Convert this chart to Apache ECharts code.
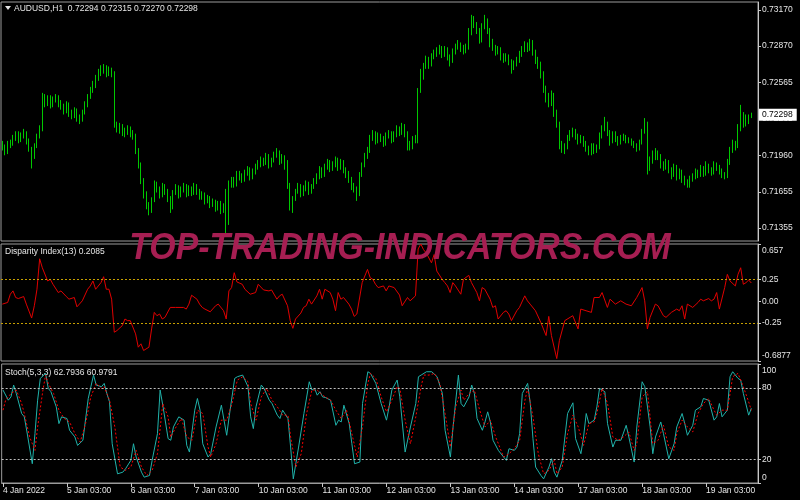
<!DOCTYPE html>
<html>
<head>
<meta charset="utf-8">
<title>AUDUSD H1</title>
<script src="https://cdn.jsdelivr.net/npm/echarts@6/dist/echarts.min.js"></script>
<style>
  html, body { margin: 0; padding: 0; background: #000; }
  #chart { width: 800px; height: 500px; }
</style>
</head>
<body>
<div id="chart"></div>
<script>
// AUDUSD,H1 bars, open of a bar = close of the bar before it
const firstOpen = 0.7205;
const closes = [
  0.7203,0.7199,0.7205,0.7206,0.7210,0.7214,0.7209,0.7212,0.7215,0.7208,
  0.7201,0.7195,0.7204,0.7212,0.7218,0.7245,0.7240,0.7244,0.7238,0.7242,
  0.7245,0.7239,0.7237,0.7233,0.7238,0.7231,0.7229,0.7233,0.7227,0.7226,
  0.7232,0.7238,0.7245,0.7250,0.7255,0.7260,0.7265,0.7267,0.7270,0.7264,
  0.7267,0.7264,0.7221,0.7218,0.7220,0.7216,0.7215,0.7218,0.7214,0.7212,
  0.7200,0.7188,0.7175,0.7163,0.7154,0.7150,0.7159,0.7172,0.7168,0.7163,
  0.7170,0.7166,0.7160,0.7153,0.7165,0.7169,0.7163,0.7167,0.7170,0.7164,
  0.7168,0.7165,0.7170,0.7166,0.7162,0.7163,0.7158,0.7160,0.7155,0.7157,
  0.7152,0.7156,0.7150,0.7153,0.7155,0.7172,0.7175,0.7172,0.7180,0.7178,
  0.7176,0.7181,0.7184,0.7178,0.7182,0.7186,0.7188,0.7192,0.7190,0.7195,
  0.7188,0.7192,0.7196,0.7198,0.7191,0.7194,0.7190,0.7171,0.7154,0.7160,
  0.7166,0.7170,0.7164,0.7168,0.7172,0.7166,0.7170,0.7174,0.7178,0.7184,
  0.7180,0.7186,0.7190,0.7185,0.7188,0.7192,0.7186,0.7190,0.7184,0.7180,
  0.7176,0.7170,0.7168,0.7164,0.7180,0.7188,0.7195,0.7200,0.7210,0.7214,
  0.7208,0.7212,0.7210,0.7206,0.7212,0.7214,0.7209,0.7213,0.7218,0.7215,
  0.7220,0.7214,0.7205,0.7203,0.7210,0.7208,0.7250,0.7262,0.7270,0.7276,
  0.7272,0.7278,0.7280,0.7282,0.7285,0.7280,0.7284,0.7278,0.7275,0.7282,
  0.7286,0.7288,0.7285,0.7283,0.7286,0.7298,0.7308,0.7305,0.7300,0.7292,
  0.7303,0.7308,0.7300,0.7290,0.7286,0.7282,0.7284,0.7278,0.7276,0.7278,
  0.7274,0.7270,0.7272,0.7275,0.7280,0.7284,0.7288,0.7285,0.7290,0.7282,
  0.7275,0.7272,0.7264,0.7252,0.7245,0.7240,0.7246,0.7232,0.7222,0.7205,
  0.7200,0.7203,0.7210,0.7214,0.7216,0.7212,0.7208,0.7210,0.7206,0.7202,
  0.7198,0.7204,0.7200,0.7203,0.7212,0.7218,0.7222,0.7215,0.7208,0.7214,
  0.7210,0.7206,0.7210,0.7212,0.7208,0.7209,0.7206,0.7204,0.7202,0.7207,
  0.7216,0.7221,0.7186,0.7192,0.7196,0.7198,0.7195,0.7188,0.7186,0.7190,
  0.7184,0.7180,0.7186,0.7178,0.7182,0.7176,0.7174,0.7170,0.7176,0.7178,
  0.7182,0.7180,0.7185,0.7181,0.7187,0.7184,0.7182,0.7188,0.7186,0.7183,
  0.7180,0.7178,0.7190,0.7200,0.7206,0.7204,0.7218,0.7230,0.7222,0.7228,
  0.72294,0.72298
];
const highs = [
  0.7208,0.7205,0.7208,0.7209,0.7213,0.7216,0.7216,0.7215,0.7218,0.7216,
  0.7210,0.7203,0.7206,0.7214,0.7221,0.7248,0.7247,0.7246,0.7246,0.7245,
  0.7247,0.7246,0.7242,0.7239,0.7241,0.7240,0.7234,0.7236,0.7235,0.7230,
  0.7234,0.7241,0.7247,0.7253,0.7258,0.7263,0.7268,0.7271,0.7272,0.7271,
  0.7270,0.7269,0.7266,0.7224,0.7223,0.7222,0.7219,0.7221,0.7220,0.7217,
  0.7214,0.7202,0.7190,0.7177,0.7166,0.7157,0.7161,0.7175,0.7174,0.7170,
  0.7173,0.7172,0.7168,0.7162,0.7167,0.7172,0.7171,0.7170,0.7173,0.7172,
  0.7171,0.7170,0.7173,0.7172,0.7168,0.7166,0.7165,0.7163,0.7162,0.7160,
  0.7159,0.7158,0.7158,0.7156,0.7168,0.7175,0.7178,0.7178,0.7183,0.7183,
  0.7181,0.7184,0.7187,0.7186,0.7185,0.7189,0.7192,0.7195,0.7194,0.7198,
  0.7197,0.7194,0.7199,0.7202,0.7200,0.7197,0.7196,0.7192,0.7173,0.7162,
  0.7168,0.7173,0.7172,0.7171,0.7175,0.7174,0.7172,0.7177,0.7181,0.7187,
  0.7186,0.7189,0.7193,0.7192,0.7191,0.7195,0.7194,0.7193,0.7192,0.7186,
  0.7183,0.7178,0.7173,0.7170,0.7182,0.7190,0.7198,0.7203,0.7213,0.7217,
  0.7216,0.7215,0.7214,0.7212,0.7215,0.7217,0.7216,0.7216,0.7221,0.7220,
  0.7223,0.7222,0.7216,0.7208,0.7212,0.7213,0.7252,0.7268,0.7273,0.7279,
  0.7278,0.7281,0.7284,0.7286,0.7288,0.7287,0.7287,0.7286,0.7280,0.7285,
  0.7289,0.7292,0.7290,0.7288,0.7289,0.7302,0.7313,0.7312,0.7307,0.7302,
  0.7306,0.7313,0.7310,0.7302,0.7293,0.7288,0.7287,0.7286,0.7281,0.7281,
  0.7280,0.7276,0.7275,0.7278,0.7283,0.7287,0.7291,0.7290,0.7293,0.7292,
  0.7284,0.7278,0.7274,0.7266,0.7254,0.7248,0.7250,0.7248,0.7234,0.7224,
  0.7208,0.7206,0.7213,0.7217,0.7219,0.7218,0.7214,0.7213,0.7212,0.7208,
  0.7204,0.7206,0.7206,0.7205,0.7215,0.7221,0.7228,0.7224,0.7217,0.7216,
  0.7216,0.7212,0.7213,0.7214,0.7213,0.7211,0.7210,0.7208,0.7206,0.7209,
  0.7218,0.7227,0.7224,0.7195,0.7200,0.7202,0.7200,0.7197,0.7191,0.7193,
  0.7192,0.7186,0.7189,0.7188,0.7185,0.7184,0.7179,0.7176,0.7179,0.7181,
  0.7185,0.7184,0.7188,0.7187,0.7191,0.7189,0.7186,0.7191,0.7190,0.7188,
  0.7185,0.7182,0.7193,0.7203,0.7209,0.7208,0.7222,0.7238,0.7232,0.7230,
  0.7230,0.72315
];
const lows = [
  0.7200,0.7196,0.7197,0.7202,0.7204,0.7208,0.7206,0.7207,0.7210,0.7205,
  0.7199,0.7185,0.7193,0.7202,0.7210,0.7216,0.7236,0.7237,0.7235,0.7236,
  0.7240,0.7236,0.7234,0.7230,0.7231,0.7228,0.7226,0.7227,0.7224,0.7222,
  0.7224,0.7230,0.7236,0.7243,0.7248,0.7252,0.7258,0.7262,0.7264,0.7261,
  0.7262,0.7261,0.7219,0.7215,0.7214,0.7212,0.7211,0.7213,0.7211,0.7209,
  0.7197,0.7185,0.7172,0.7160,0.7151,0.7146,0.7148,0.7157,0.7165,0.7160,
  0.7161,0.7163,0.7157,0.7148,0.7151,0.7163,0.7160,0.7161,0.7165,0.7161,
  0.7162,0.7162,0.7163,0.7163,0.7159,0.7159,0.7155,0.7156,0.7152,0.7153,
  0.7149,0.7150,0.7147,0.7148,0.7129,0.7138,0.7169,0.7169,0.7170,0.7175,
  0.7173,0.7174,0.7179,0.7175,0.7176,0.7180,0.7184,0.7186,0.7187,0.7188,
  0.7185,0.7186,0.7190,0.7194,0.7188,0.7189,0.7184,0.7168,0.7150,0.7148,
  0.7158,0.7164,0.7161,0.7162,0.7166,0.7163,0.7164,0.7168,0.7172,0.7176,
  0.7177,0.7178,0.7184,0.7182,0.7183,0.7186,0.7183,0.7184,0.7181,0.7177,
  0.7173,0.7167,0.7165,0.7158,0.7162,0.7178,0.7186,0.7193,0.7198,0.7208,
  0.7205,0.7206,0.7207,0.7203,0.7204,0.7210,0.7206,0.7207,0.7211,0.7212,
  0.7213,0.7211,0.7200,0.7200,0.7201,0.7206,0.7206,0.7248,0.7259,0.7268,
  0.7268,0.7270,0.7276,0.7278,0.7280,0.7277,0.7278,0.7275,0.7270,0.7273,
  0.7280,0.7284,0.7282,0.7280,0.7281,0.7284,0.7296,0.7302,0.7297,0.7289,
  0.7290,0.7301,0.7297,0.7286,0.7283,0.7279,0.7280,0.7275,0.7273,0.7274,
  0.7271,0.7264,0.7267,0.7270,0.7273,0.7278,0.7282,0.7282,0.7283,0.7279,
  0.7272,0.7268,0.7260,0.7248,0.7240,0.7236,0.7237,0.7228,0.7219,0.7201,
  0.7198,0.7197,0.7201,0.7208,0.7211,0.7209,0.7205,0.7206,0.7203,0.7199,
  0.7196,0.7196,0.7197,0.7198,0.7201,0.7210,0.7216,0.7212,0.7204,0.7206,
  0.7207,0.7204,0.7205,0.7208,0.7206,0.7206,0.7204,0.7202,0.7199,0.7200,
  0.7205,0.7214,0.7180,0.7183,0.7189,0.7192,0.7192,0.7185,0.7183,0.7184,
  0.7181,0.7176,0.7178,0.7175,0.7176,0.7173,0.7171,0.7169,0.7169,0.7174,
  0.7176,0.7177,0.7178,0.7178,0.7179,0.7181,0.7179,0.7180,0.7183,0.7180,
  0.7177,0.7176,0.7177,0.7188,0.7198,0.7200,0.7202,0.7216,0.7219,0.7220,
  0.7222,0.72270
];
const lastPrice = 0.72298;
const priceTicks = [0.73170, 0.72870, 0.72565, 0.72265, 0.71960, 0.71655, 0.71355];

// Disparity Index(13), [bar, value]
const disparity = [
  [0,-0.034],[2,-0.015],[3,0.080],[4,0.118],[5,0.042],[6,0.030],[8,0.053],[9,-0.034],[11,-0.194],[12,-0.053],
  [13,0.137],[14,0.487],[15,0.384],[17,0.232],[18,0.251],[19,0.194],[21,0.099],[22,0.118],[24,0.053],[25,0.023],
  [27,0.042],[28,-0.065],[30,0.004],[32,0.137],[33,0.175],[34,0.232],[35,0.137],[37,0.213],[38,0.281],[39,0.137],
  [40,0.137],[41,0.023],[42,-0.357],[43,-0.338],[45,-0.281],[46,-0.205],[47,-0.224],[48,-0.224],[50,-0.376],[51,-0.529],
  [52,-0.490],[53,-0.567],[55,-0.529],[56,-0.319],[57,-0.129],[58,-0.167],[59,-0.148],[60,-0.205],[61,-0.186],[63,-0.072],
  [65,-0.072],[68,-0.072],[69,-0.091],[70,-0.034],[71,0.068],[73,0.023],[74,-0.034],[75,-0.072],[76,-0.091],[78,-0.122],
  [80,-0.053],[81,-0.034],[83,-0.110],[84,-0.205],[85,0.118],[86,0.156],[87,0.327],[88,0.221],[90,0.194],[91,0.137],
  [93,0.080],[95,0.099],[96,0.194],[98,0.129],[100,0.118],[101,0.129],[103,0.023],[104,0.061],[105,0.080],[107,-0.053],
  [108,-0.224],[109,-0.312],[110,-0.205],[112,-0.137],[113,-0.072],[114,-0.053],[115,0.023],[116,-0.034],[118,0.061],[119,0.137],
  [120,0.023],[121,0.137],[123,0.099],[124,0.023],[125,-0.110],[126,0.099],[127,0.023],[128,0.042],[130,-0.034],[131,-0.091],
  [132,-0.175],[133,-0.148],[135,0.213],[136,0.289],[137,0.365],[138,0.270],[139,0.251],[140,0.194],[141,0.156],[143,0.175],
  [144,0.118],[145,0.175],[147,0.156],[149,0.070],[150,-0.053],[152,0.042],[153,0.004],[155,0.061],[156,0.600],[157,0.657],
  [158,0.593],[159,0.555],[161,0.441],[162,0.536],[163,0.346],[165,0.251],[166,0.213],[167,0.175],[168,0.099],[169,0.213],
  [170,0.175],[172,0.080],[173,0.251],[175,0.297],[176,0.213],[178,0.099],[179,0.004],[180,0.156],[181,0.137],[183,0.023],
  [184,-0.072],[185,-0.053],[186,-0.205],[188,-0.129],[189,-0.110],[190,-0.148],[191,-0.224],[193,-0.110],[194,-0.072],[196,0.061],
  [197,0.004],[198,-0.034],[200,-0.110],[202,-0.243],[204,-0.395],[205,-0.175],[206,-0.395],[208,-0.660],[209,-0.452],[211,-0.224],
  [213,-0.186],[214,-0.167],[216,-0.319],[217,-0.091],[219,-0.110],[221,-0.129],[222,0.042],[224,0.042],[225,0.099],[227,-0.072],
  [228,0.023],[230,-0.034],[231,-0.015],[232,0.004],[234,-0.034],[236,-0.053],[238,0.042],[240,0.156],[241,0.004],[242,-0.319],
  [243,-0.186],[245,-0.034],[246,-0.053],[248,-0.167],[249,-0.186],[251,-0.129],[253,-0.091],[254,-0.110],[255,-0.053],[256,-0.205],
  [257,-0.034],[259,-0.072],[261,-0.015],[262,0.023],[263,0.004],[265,0.030],[266,0.004],[267,0.023],[268,0.099],[269,-0.091],
  [271,0.156],[272,0.308],[273,0.232],[275,0.175],[276,0.308],[277,0.384],[278,0.194],[279,0.213],[280,0.243],[281,0.2085]
];
const dispTicks = [0.657, 0.25, 0, -0.25, -0.6877];
const dispTickText = ['0.657', '0.25', '0.00', '-0.25', '-0.6877'];
const dispLevels = [0.25, -0.25];

// Stoch(5,3,3) main and signal, [bar, value]
const stochMain = [
  [0,78.1],[2,69.6],[3,72.4],[4,82.3],[5,75.2],[7,58.4],[8,55.6],[9,42.9],[11,16.2],[12,41.5],
  [13,69.6],[14,87.9],[16,92.1],[17,79.5],[18,76.7],[20,64.0],[21,49.9],[22,55.6],[24,54.2],[25,44.3],
  [27,38.7],[28,31.6],[30,35.9],[32,71.0],[33,80.9],[34,90.7],[35,82.3],[37,80.9],[38,83.7],[39,75.2],
  [40,68.2],[41,33.0],[43,7.7],[45,9.1],[46,11.9],[48,19.0],[49,33.0],[50,21.8],[52,9.1],[53,4.9],
  [55,6.3],[56,19.0],[58,41.5],[59,78.1],[60,65.4],[62,37.3],[63,35.9],[64,47.1],[66,55.6],[68,52.8],
  [69,31.6],[70,26.0],[72,61.2],[73,71.0],[74,61.2],[75,33.0],[77,21.8],[78,24.6],[80,47.1],[82,65.4],
  [84,40.1],[85,57.0],[87,87.9],[88,89.3],[90,90.7],[92,80.9],[93,55.6],[94,45.7],[95,64.0],[97,82.3],
  [98,79.5],[100,69.6],[101,66.8],[103,57.0],[104,54.2],[105,61.2],[107,54.2],[108,30.2],[109,3.5],[111,30.2],
  [113,58.4],[115,85.1],[116,78.1],[117,79.5],[118,73.8],[119,76.7],[120,72.4],[121,71.9],[123,69.6],[125,48.5],
  [126,52.8],[127,51.3],[128,65.4],[130,49.9],[131,33.0],[132,16.2],[134,17.6],[135,66.8],[137,93.5],[138,92.1],
  [140,83.7],[142,66.8],[144,52.8],[145,64.0],[146,78.1],[148,86.5],[149,72.4],[151,26.0],[153,47.1],[155,66.8],
  [156,89.3],[157,90.7],[159,93.5],[161,93.5],[163,89.3],[165,75.2],[166,44.3],[168,21.8],[169,47.1],[171,90.7],
  [172,66.8],[173,64.0],[175,72.4],[176,82.3],[177,75.2],[178,54.2],[180,44.3],[181,51.3],[182,59.8],[183,51.3],
  [184,35.9],[186,27.4],[188,21.8],[189,19.0],[190,28.8],[192,27.4],[193,30.2],[194,41.5],[195,75.2],[197,83.7],
  [198,66.8],[199,37.3],[200,13.4],[202,6.3],[203,3.5],[205,13.4],[206,20.4],[207,9.1],[208,4.9],[210,19.0],
  [212,58.4],[214,67.4],[215,37.3],[217,24.6],[218,38.7],[219,58.4],[220,49.9],[222,52.8],[223,64.0],[224,79.5],
  [226,76.7],[227,49.9],[229,30.2],[230,35.9],[232,35.9],[234,48.5],[235,38.7],[237,17.6],[238,47.1],[240,85.1],
  [241,80.9],[243,47.1],[244,24.6],[245,38.7],[247,51.3],[248,41.5],[250,20.4],[252,33.0],[253,47.1],[255,58.4],
  [256,49.9],[257,40.1],[259,48.5],[260,61.2],[262,64.0],[263,71.0],[265,69.6],[267,52.8],[268,55.6],[269,66.8],
  [270,55.6],[272,61.2],[273,89.3],[274,93.5],[276,87.9],[277,86.5],[278,75.2],[280,57.0],[281,62.79]
];
const stochSignal = [
  [0,61.2],[1,69.6],[3,75.2],[5,78.1],[7,66.8],[8,58.4],[10,38.7],[12,27.4],[13,47.1],[15,78.1],
  [16,90.7],[17,83.7],[19,75.2],[21,61.2],[23,54.2],[25,51.3],[27,41.5],[29,34.5],[31,49.9],[33,72.4],
  [35,83.7],[37,79.5],[38,80.9],[40,69.6],[42,47.1],[44,13.4],[46,10.6],[48,13.4],[50,27.4],[52,13.4],
  [54,6.3],[56,10.6],[58,24.6],[60,66.8],[62,55.6],[63,38.7],[65,47.1],[67,54.2],[69,38.7],[71,35.9],
  [73,61.2],[75,58.4],[77,30.2],[78,21.8],[80,33.0],[82,52.8],[84,52.8],[86,66.8],[88,86.5],[90,89.3],
  [92,85.1],[93,66.8],[95,52.8],[97,72.4],[99,79.5],[101,69.6],[103,64.0],[105,57.0],[107,57.0],[108,38.7],
  [110,13.4],[112,24.6],[114,58.4],[116,78.1],[118,78.1],[120,73.8],[121,72.4],[123,69.6],[125,61.2],[127,54.2],
  [129,61.2],[131,41.5],[133,21.8],[135,47.1],[137,83.7],[138,92.1],[140,87.9],[142,72.4],[144,59.8],[146,69.6],
  [148,80.9],[149,79.5],[151,52.8],[153,33.0],[155,55.6],[157,80.9],[158,90.7],[160,90.7],[162,92.1],[164,83.7],
  [166,58.4],[168,30.2],[170,64.0],[172,78.1],[173,69.6],[175,75.2],[177,78.1],[179,61.2],[181,47.1],[183,52.8],
  [185,38.7],[187,27.4],[188,21.8],[190,24.6],[192,28.8],[194,35.9],[196,69.6],[197,79.5],[199,55.6],[201,24.6],
  [203,7.7],[205,10.6],[207,19.0],[208,7.7],[210,13.4],[212,41.5],[214,57.0],[216,47.1],[218,31.6],[220,49.9],
  [222,51.3],[223,58.4],[225,79.5],[227,66.8],[229,38.7],[231,35.9],[233,38.7],[235,42.9],[237,27.4],[238,33.0],
  [240,72.4],[242,76.7],[244,33.0],[246,35.9],[248,48.5],[250,30.2],[252,27.4],[253,41.5],[255,52.8],[257,47.1],
  [259,42.9],[261,58.4],[263,66.8],[265,71.0],[267,61.2],[268,57.0],[270,61.2],[272,61.2],[274,89.3],[276,92.1],
  [278,80.9],[280,68.2],[281,60.98]
];
const stochTicks = [100, 80, 20, 0];
const stochLevels = [80, 20];

// time axis, one label every 24 bars
const timeLabels = ['4 Jan 2022', '5 Jan 03:00', '6 Jan 03:00', '7 Jan 03:00', '10 Jan 03:00', '11 Jan 03:00',
  '12 Jan 03:00', '13 Jan 03:00', '14 Jan 03:00', '17 Jan 03:00', '18 Jan 03:00', '19 Jan 03:00'];
const labelStep = 24;

const slotCount = closes.length + 2; // small empty shift at the right edge
const categories = Array.from({ length: slotCount }, (_, i) => String(i));

const candles = closes.map((c, i) => {
  const o = i === 0 ? firstOpen : closes[i - 1];
  return [o, c, lows[i], highs[i]];
});

const textColor = '#e6e6e6';
const frameColor = '#9b9b9b';
const font = 'Liberation Sans';
const isLabelSlot = (i) => i % labelStep === 0 && i / labelStep < timeLabels.length;

// min / max label sits inside the panel like in MT4
function edgeLabel(text, v, lo, hi) {
  if (v === hi) return '{top|' + text + '}';
  if (v === lo) return '{bot|' + text + '}';
  return text;
}
const edgeRich = {
  top: { padding: [13, 0, 0, 0] },
  bot: { padding: [0, 0, 11, 0] }
};

const chart = echarts.init(document.getElementById('chart'));

const grids = [
  { left: 1, right: 42, top: 2, height: 239 },
  { left: 1, right: 42, top: 244, height: 117 },
  { left: 1, right: 42, top: 364, height: 119 }
].map((g) => Object.assign(g, { show: true, borderColor: frameColor, borderWidth: 1, backgroundColor: 'transparent' }));

function xAx(idx, withLabels) {
  return {
    type: 'category',
    gridIndex: idx,
    data: categories,
    boundaryGap: true,
    axisLine: { show: withLabels, lineStyle: { color: frameColor } },
    axisTick: {
      show: withLabels,
      interval: (i) => isLabelSlot(i),
      alignWithLabel: true,
      length: 4,
      lineStyle: { color: '#c8c8c8' }
    },
    axisLabel: {
      show: withLabels,
      interval: (i) => isLabelSlot(i),
      formatter: (v, i) => timeLabels[i / labelStep] || '',
      align: 'left',
      margin: 3,
      color: textColor,
      fontFamily: font,
      fontSize: 8.5
    },
    splitLine: { show: false }
  };
}

function yAx(idx, min, max, ticks, fmt) {
  return {
    type: 'value',
    gridIndex: idx,
    position: 'right',
    min: min,
    max: max,
    scale: true,
    axisLine: { show: true, lineStyle: { color: '#c8c8c8' } },
    axisTick: { show: true, customValues: ticks, length: 3, lineStyle: { color: '#c8c8c8' } },
    axisLabel: {
      customValues: ticks,
      formatter: fmt,
      margin: 4,
      color: textColor,
      fontFamily: font,
      fontSize: 8.5,
      rich: edgeRich
    },
    splitLine: { show: false }
  };
}

function levels(values, color) {
  return {
    silent: true,
    symbol: 'none',
    label: { show: false },
    lineStyle: { color: color, type: [2, 2], width: 1 },
    data: values.map((v) => ({ yAxis: v }))
  };
}

const option = {
  backgroundColor: '#000',
  animation: false,
  grid: grids,
  xAxis: [xAx(0, false), xAx(1, false), xAx(2, true)],
  yAxis: [
    yAx(0, 0.71246, 0.73237, priceTicks, (v) => v.toFixed(5)),
    yAx(1, -0.6877, 0.657, dispTicks, (v) => {
      const k = dispTicks.findIndex((t) => Math.abs(t - v) < 1e-6);
      return edgeLabel(k >= 0 ? dispTickText[k] : '', v, -0.6877, 0.657);
    }),
    yAx(2, 0, 100, stochTicks, (v) => edgeLabel(String(Math.round(v)), v, 0, 100))
  ],
  series: [
    {
      name: 'AUDUSD,H1',
      type: 'candlestick',
      xAxisIndex: 0,
      yAxisIndex: 0,
      data: candles,
      barWidth: 1,
      itemStyle: {
        color: '#00c800',
        color0: '#00c800',
        borderColor: '#00c800',
        borderColor0: '#00c800',
        borderWidth: 1
      },
      // last price box on the price scale
      markLine: {
        silent: true,
        symbol: 'none',
        precision: 5,
        z: 10,
        lineStyle: { color: 'rgba(0,0,0,0)', width: 1 },
        label: {
          show: true,
          position: 'end',
          distance: 1,
          formatter: () => lastPrice.toFixed(5),
          backgroundColor: '#ffffff',
          color: '#000000',
          padding: [2, 4, 1, 3],
          fontFamily: font,
          fontSize: 8.5
        },
        data: [{ yAxis: lastPrice }]
      }
    },
    {
      name: 'Disparity Index(13)',
      type: 'line',
      xAxisIndex: 1,
      yAxisIndex: 1,
      data: disparity,
      showSymbol: false,
      lineStyle: { color: '#e00000', width: 1 },
      markLine: levels(dispLevels, '#c8a000')
    },
    {
      name: 'Stoch main',
      type: 'line',
      xAxisIndex: 2,
      yAxisIndex: 2,
      data: stochMain,
      showSymbol: false,
      lineStyle: { color: '#20b2aa', width: 1 },
      markLine: levels(stochLevels, '#c0c0c0')
    },
    {
      name: 'Stoch signal',
      type: 'line',
      xAxisIndex: 2,
      yAxisIndex: 2,
      data: stochSignal,
      showSymbol: false,
      lineStyle: { color: '#ff0000', width: 1, type: [2, 2] }
    }
  ],
  graphic: [
    {
      type: 'polygon',
      shape: { points: [[5, 6], [11, 6], [8, 10]] },
      style: { fill: textColor }
    },
    {
      type: 'text', left: 14, top: 4,
      style: { text: 'AUDUSD,H1  0.72294 0.72315 0.72270 0.72298', fill: textColor, font: '8.5px "Liberation Sans"' }
    },
    {
      type: 'text', left: 5, top: 247,
      style: { text: 'Disparity Index(13) 0.2085', fill: textColor, font: '8.5px "Liberation Sans"' }
    },
    {
      type: 'text', left: 5, top: 368,
      style: { text: 'Stoch(5,3,3) 62.7936 60.9791', fill: textColor, font: '8.5px "Liberation Sans"' }
    },
    {
      // watermark
      type: 'text', x: 400, y: 249, scaleX: 0.94, z: 100,
      style: {
        text: 'TOP-TRADING-INDICATORS.COM',
        align: 'center',
        verticalAlign: 'middle',
        fill: '#a61e52',
        font: 'italic bold 36px "Liberation Sans", sans-serif'
      }
    }
  ]
};

chart.setOption(option);
</script>
</body>
</html>
